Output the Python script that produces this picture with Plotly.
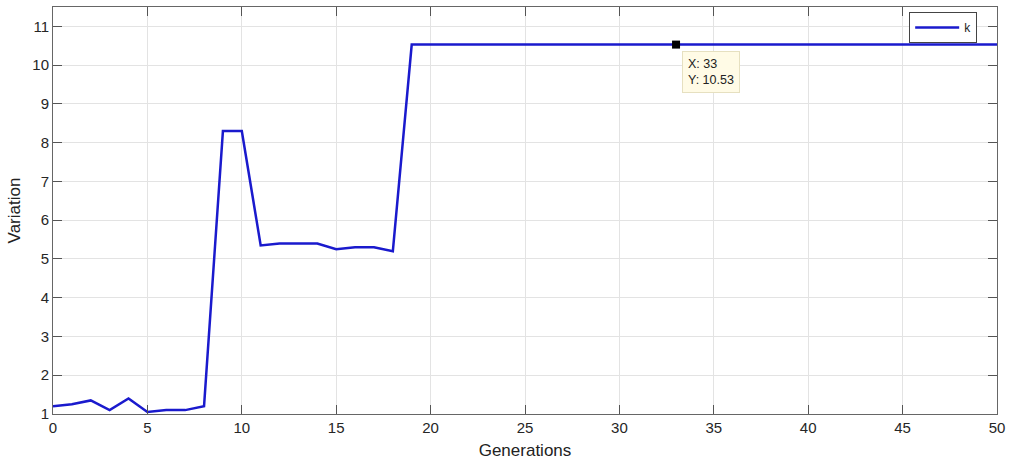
import plotly.graph_objects as go

generations = list(range(0, 51))
variation_head = [1.2, 1.25, 1.35, 1.1, 1.4, 1.05, 1.1, 1.1, 1.2, 8.3, 8.3,
                  5.35, 5.4, 5.4, 5.4, 5.25, 5.3, 5.3, 5.2]
variation = variation_head + [10.53] * (51 - len(variation_head))
tip_x = 33
tip_y = 10.53

fig = go.Figure()
fig.add_trace(go.Scatter(x=generations, y=variation, mode="lines", name="k",
                         line=dict(color="#1a1acd", width=2.5)))
fig.add_trace(go.Scatter(x=[tip_x], y=[tip_y], mode="markers", showlegend=False,
                         marker=dict(color="black", size=8, symbol="square")))
fig.add_annotation(x=tip_x, y=tip_y, xref="x", yref="y",
                   text=f"X: {tip_x}<br>Y: {tip_y}", showarrow=False,
                   xanchor="left", yanchor="top", xshift=6, yshift=-6,
                   align="left", bgcolor="#fffbe6", bordercolor="#e6e0c0",
                   borderwidth=1, borderpad=5,
                   font=dict(family="Liberation Sans", size=12.5, color="#222"))

axis_common = dict(showline=True, linecolor="#666", linewidth=1, mirror="ticks",
                   ticks="inside", ticklen=9, tickcolor="#555", automargin=False,
                   showgrid=True, gridcolor="#e3e3e3", gridwidth=1,
                   zeroline=False, tickfont=dict(size=15, color="#262626"))
fig.update_xaxes(range=[0, 50], dtick=5, title=dict(text="Generations", standoff=9,
                 font=dict(size=17, color="#222")), **axis_common)
fig.update_yaxes(range=[1, 11.5], dtick=1, tick0=1, title=dict(text="Variation", standoff=7,
                 font=dict(size=17, color="#222")), **axis_common)

fig.update_layout(width=1015, height=462, margin=dict(l=53, r=18, t=7, b=48),
                  plot_bgcolor="white", paper_bgcolor="white",
                  font=dict(family="Liberation Sans", color="#222"),
                  legend=dict(x=0.979, y=0.988, xanchor="right", yanchor="top",
                              bgcolor="white", bordercolor="#444", borderwidth=1,
                              itemwidth=44, font=dict(size=12)))
fig.write_html("out.html", config={"displayModeBar": False},
               post_script="document.body.style.margin='0';")
